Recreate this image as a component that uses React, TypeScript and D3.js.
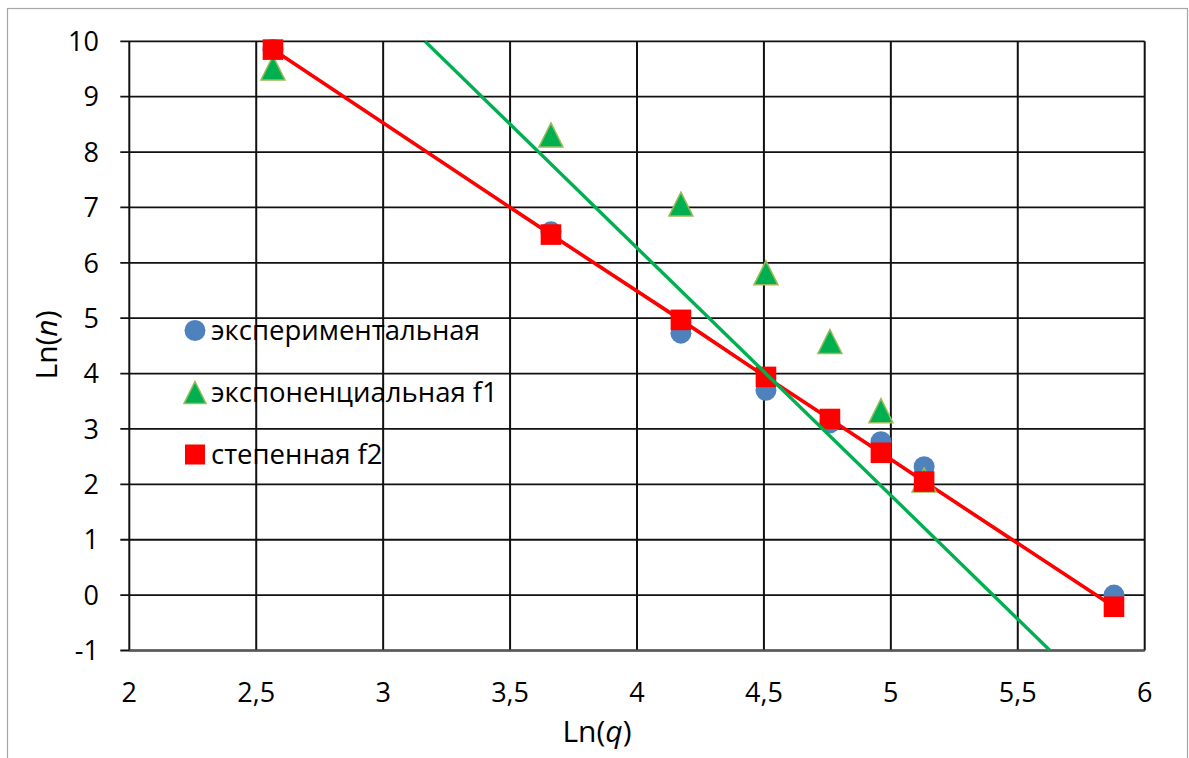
import React from "react";
import * as d3 from "d3";

const xValues = [2.566, 3.661, 4.173, 4.508, 4.76, 4.961, 5.131, 5.879];
const experimental = [9.85, 6.56, 4.73, 3.7, 3.11, 2.77, 2.32, 0.0];
const exponentialF1 = [9.52, 8.31, 7.06, 5.82, 4.58, 3.33, 2.08];
const powerF2 = [9.85, 6.51, 4.97, 3.94, 3.18, 2.57, 2.05, -0.21];
const greenLineX = [3.165, 5.627];
const greenLineY = [10, -1];
const xTicks = [2, 2.5, 3, 3.5, 4, 4.5, 5, 5.5, 6];
const yTicks = [-1, 0, 1, 2, 3, 4, 5, 6, 7, 8, 9, 10];
const legendLabels = ["экспериментальная", "экспоненциальная f1", "степенная f2"];

const W = 1189;
const H = 758;
const plot = { left: 129.3, right: 1144.7, top: 41.3, bottom: 650.5 };
const FONT = "'Open Sans', 'Noto Sans', sans-serif";

const locale = d3.formatLocale({ decimal: ",", thousands: " ", grouping: [3], currency: ["", ""], minus: "-" });
const fmt = locale.format("~g");

export default function App() {
  const x = d3.scaleLinear().domain([2, 6]).range([plot.left, plot.right]);
  const y = d3.scaleLinear().domain([-1, 10]).range([plot.bottom, plot.top]);

  const line = d3
    .line<[number, number]>()
    .x((d) => x(d[0]))
    .y((d) => y(d[1]));

  const redPts: [number, number][] = xValues.map((v, i) => [v, powerF2[i]]);
  const greenPts: [number, number][] = greenLineX.map((v, i) => [v, greenLineY[i]]);

  const tri = (cx: number, cy: number, s: number) =>
    `M${cx},${cy - s / 2}L${cx + s / 2},${cy + s / 2}L${cx - s / 2},${cy + s / 2}Z`;

  const legendY = [330.5, 392.5, 454.5];
  const legendX = 195;

  return (
    <svg
      width={W}
      height={H}
      style={{ position: "absolute", left: 0, top: 0, background: "#fff" }}
      fontFamily={FONT}
    >
      <rect x={0} y={0} width={W} height={H} fill="#fff" />
      <rect x={7.5} y={8.5} width={1180} height={780} fill="#fff" stroke="#a6a6a6" strokeWidth={1.2} />

      {/* gridlines */}
      {yTicks.map((t) => (
        <line key={"gy" + t} x1={plot.left - 9} x2={plot.right} y1={y(t)} y2={y(t)} stroke="#111" strokeWidth={1.8} />
      ))}
      {xTicks.map((t) => (
        <line key={"gx" + t} x1={x(t)} x2={x(t)} y1={plot.top} y2={plot.bottom} stroke="#111" strokeWidth={2} />
      ))}
      <line x1={plot.left} x2={plot.right} y1={y(-1)} y2={y(-1)} stroke="#595959" strokeWidth={2} />

      {/* tick labels */}
      {yTicks.map((t) => (
        <text key={"ly" + t} x={99} y={y(t) + 9.7} textAnchor="end" fontSize={27} fill="#000">
          {fmt(t)}
        </text>
      ))}
      {xTicks.map((t) => (
        <text key={"lx" + t} x={x(t)} y={702} textAnchor="middle" fontSize={27} fill="#000">
          {fmt(t)}
        </text>
      ))}

      {/* axis titles */}
      <text x={597} y={742} textAnchor="middle" fontSize={30} fill="#000">
        Ln(<tspan fontStyle="italic">q</tspan>)
      </text>
      <text transform={`translate(57,345) rotate(-90)`} textAnchor="middle" fontSize={30} fill="#000">
        Ln(<tspan fontStyle="italic">n</tspan>)
      </text>

      <defs>
        <clipPath id="plotClip">
          <rect x={plot.left} y={plot.top} width={plot.right - plot.left} height={plot.bottom - plot.top} />
        </clipPath>
      </defs>

      {/* red line */}
      <path d={line(redPts) || ""} fill="none" stroke="#ff0000" strokeWidth={3.6} />

      {/* markers */}
      {xValues.map((v, i) => (
        <circle key={"c" + i} cx={x(v)} cy={y(experimental[i])} r={10.5} fill="#4f81bd" />
      ))}
      {exponentialF1.map((v, i) => (
        <path key={"t" + i} d={tri(x(xValues[i]), y(v), 24)} fill="#00b050" stroke="#9bbb59" strokeWidth={1.5} />
      ))}
      {powerF2.map((v, i) => (
        <rect key={"s" + i} x={x(xValues[i]) - 10.3} y={y(v) - 10.3} width={20.6} height={20.6} fill="#ff0000" />
      ))}

      {/* green line */}
      <path d={line(greenPts) || ""} fill="none" stroke="#00b050" strokeWidth={3.4} clipPath="url(#plotClip)" />

      {/* legend */}
      <circle cx={legendX} cy={legendY[0]} r={10.5} fill="#4f81bd" />
      <path d={tri(legendX, legendY[1], 22)} fill="#00b050" stroke="#9bbb59" strokeWidth={1.5} />
      <rect x={legendX - 10} y={legendY[2] - 10} width={20} height={20} fill="#ff0000" />
      {legendLabels.map((l, i) => (
        <text key={"lg" + i} x={211} y={legendY[i] + 9} fontSize={27.5} fill="#000">
          {l}
        </text>
      ))}
    </svg>
  );
}
